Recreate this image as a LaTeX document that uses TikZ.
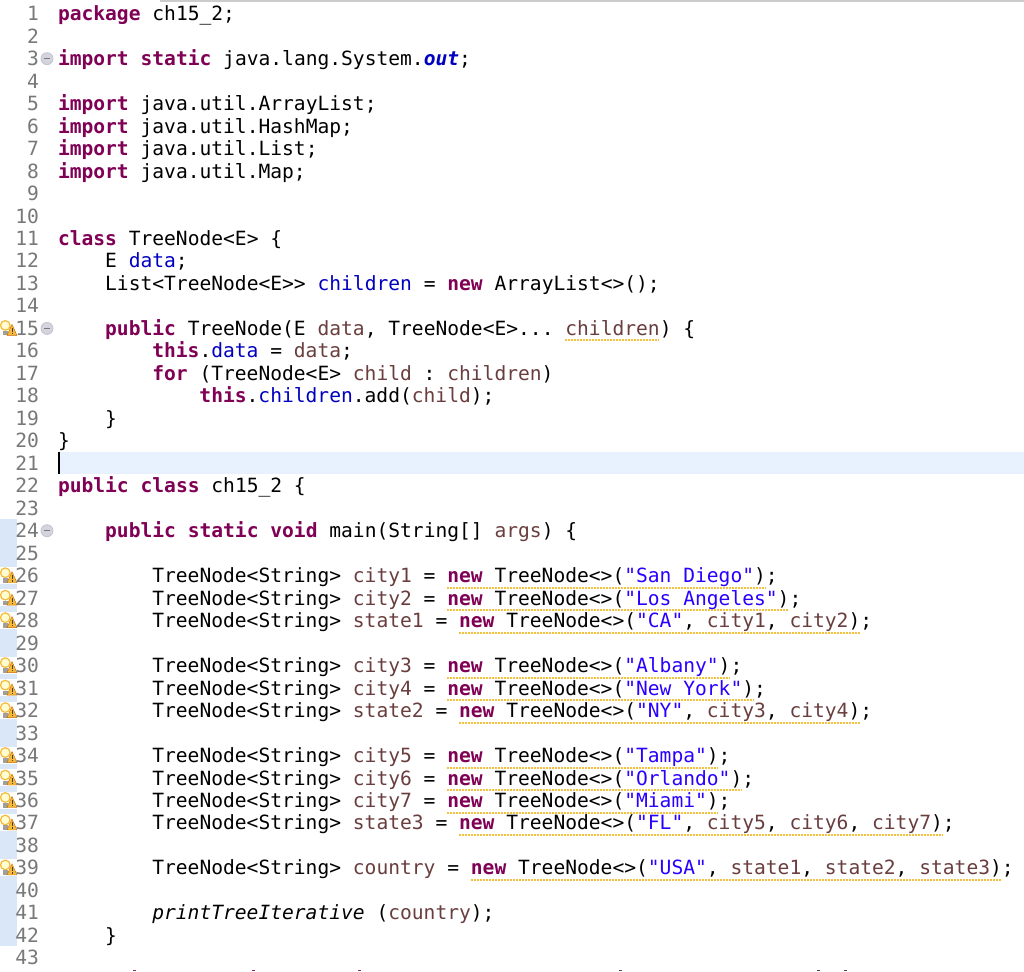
\documentclass[tikz,border=0pt]{standalone}
\usepackage{fontspec}
\setmonofont{DejaVu Sans Mono}
\usepackage{tikz}
\usetikzlibrary{calc}
\definecolor{kwcol}{HTML}{7F0055}
\definecolor{fieldcol}{HTML}{0000C0}
\definecolor{strcol}{HTML}{2A00FF}
\definecolor{varcol}{HTML}{6A3E3E}
\definecolor{numcol}{HTML}{787878}
\definecolor{warncol}{HTML}{F4C13F}
\definecolor{gutcol}{HTML}{D9E7F9}
\definecolor{curcol}{HTML}{E8F2FE}
\newcommand{\kw}[1]{{\bfseries\color{kwcol}#1}}
\newcommand{\fd}[1]{{\color{fieldcol}#1}}
\newcommand{\st}[1]{{\color{strcol}"#1"}}
\newcommand{\vr}[1]{{\color{varcol}#1}}
\newcommand{\tn}{TreeNode<String>}
\newcommand{\lnY}[1]{13.7+22.48*(#1-1)}
\newcommand{\codeline}[3]{\node[codetext] (line#1) at ({58+11.79*#2},{\lnY{#1}+7}) {#3};}
\tikzset{
	codetext/.style={anchor=base west,inner sep=0pt,outer sep=0pt,font=\ttfamily\fontsize{19.6}{22}\selectfont},
	linenum/.style={anchor=base east,inner sep=0pt,outer sep=0pt,text=numcol,font=\ttfamily\fontsize{19.6}{22}\selectfont},
	squiggle/.style={draw=warncol,line width=2pt,dash pattern=on 2pt off 1pt},
	foldmark/.pic={
		\fill[fill=blue!12!gray!30,draw=blue!20!gray!40,line width=0.8pt] (0,0) circle (6);
		\draw[numcol,line width=1pt] (-3.2,0) -- (3.2,0);
	},
	warnicon/.pic={
		\fill[white] (-0.5,-9) rectangle (17,8);
		\draw[draw=warncol!90!orange,fill=yellow!18,line width=1.2pt] (5.3,-3) circle (4.8);
		\fill[gray!75] (2.5,2.5) rectangle (7.5,7);
		\fill[warncol!90!orange,draw=orange!80!black,line width=0.4pt] (12,-4) -- (17,7) -- (7,7) -- cycle;
		\fill[black!75] (11.5,-0.5) rectangle (12.5,3.5);
		\fill[black!75] (11.5,4.5) rectangle (12.5,5.8);
	}
}
\begin{document}
\begin{tikzpicture}[x=1pt,y=-1pt]
	\useasboundingbox (0,0) rectangle (1024,971);
	\fill[white] (0,0) rectangle (1024,971);
	% window edge, gutter stripe, current line
	\fill[gray!40] (160,0) rectangle (1024,2);
	\fill[gutcol] (0,519) rectangle (17,946);
	\fill[curcol] (58,452) rectangle (1024,474);
	\fill[black] (58,452) rectangle (60,474);
	% warnings under the code
	\foreach \n/\a/\b in {15/43/51,26/33/60,27/33/62,28/34/68,30/33/57,31/33/59,32/34/68,34/33/56,35/33/58,36/33/56,37/34/75,39/35/80}
		\draw[squiggle] ({58+11.79*\a},{\lnY{\n}+12}) -- ({58+11.79*\b},{\lnY{\n}+12});
	\foreach \n in {15,26,27,28,30,31,32,34,35,36,37,39}
		\pic at (0,{\lnY{\n}}) {warnicon};
	\foreach \n in {1,...,43}
		\node[linenum] (num\n) at (39,{\lnY{\n}+7}) {\n};
	\foreach \n in {3,15,24}
		\pic at (47,{\lnY{\n}}) {foldmark};
	\codeline{1}{0}{\kw{package} ch15\_2;}
	\codeline{3}{0}{\kw{import} \kw{static} java.lang.System.{\bfseries\itshape\color{fieldcol}out};}
	\codeline{5}{0}{\kw{import} java.util.ArrayList;}
	\codeline{6}{0}{\kw{import} java.util.HashMap;}
	\codeline{7}{0}{\kw{import} java.util.List;}
	\codeline{8}{0}{\kw{import} java.util.Map;}
	\codeline{11}{0}{\kw{class} TreeNode<E> \{}
	\codeline{12}{4}{E \fd{data};}
	\codeline{13}{4}{List<TreeNode<E>> \fd{children} = \kw{new} ArrayList<>();}
	\codeline{15}{4}{\kw{public} TreeNode(E \vr{data}, TreeNode<E>... \vr{children}) \{}
	\codeline{16}{8}{\kw{this}.\fd{data} = \vr{data};}
	\codeline{17}{8}{\kw{for} (TreeNode<E> \vr{child} : \vr{children})}
	\codeline{18}{12}{\kw{this}.\fd{children}.add(\vr{child});}
	\codeline{19}{4}{\}}
	\codeline{20}{0}{\}}
	\codeline{22}{0}{\kw{public} \kw{class} ch15\_2 \{}
	\codeline{24}{4}{\kw{public} \kw{static} \kw{void} main(String[] \vr{args}) \{}
	\codeline{26}{8}{\tn{} \vr{city1} = \kw{new} TreeNode<>(\st{San Diego});}
	\codeline{27}{8}{\tn{} \vr{city2} = \kw{new} TreeNode<>(\st{Los Angeles});}
	\codeline{28}{8}{\tn{} \vr{state1} = \kw{new} TreeNode<>(\st{CA}, \vr{city1}, \vr{city2});}
	\codeline{30}{8}{\tn{} \vr{city3} = \kw{new} TreeNode<>(\st{Albany});}
	\codeline{31}{8}{\tn{} \vr{city4} = \kw{new} TreeNode<>(\st{New York});}
	\codeline{32}{8}{\tn{} \vr{state2} = \kw{new} TreeNode<>(\st{NY}, \vr{city3}, \vr{city4});}
	\codeline{34}{8}{\tn{} \vr{city5} = \kw{new} TreeNode<>(\st{Tampa});}
	\codeline{35}{8}{\tn{} \vr{city6} = \kw{new} TreeNode<>(\st{Orlando});}
	\codeline{36}{8}{\tn{} \vr{city7} = \kw{new} TreeNode<>(\st{Miami});}
	\codeline{37}{8}{\tn{} \vr{state3} = \kw{new} TreeNode<>(\st{FL}, \vr{city5}, \vr{city6}, \vr{city7});}
	\codeline{39}{8}{\tn{} \vr{country} = \kw{new} TreeNode<>(\st{USA}, \vr{state1}, \vr{state2}, \vr{state3});}
	\codeline{41}{8}{{\itshape printTreeIterative} (\vr{country});}
	\codeline{42}{4}{\}}
	% tops of the next line, cut by the image edge
	\foreach \x in {134,253,359}
		\fill[kwcol!85] (\x-1.5,970) rectangle (\x+1.5,971);
	\foreach \x in {620,818,845}
		\fill[black!70] (\x-1.5,970) rectangle (\x+1.5,971);
\end{tikzpicture}
\end{document}
